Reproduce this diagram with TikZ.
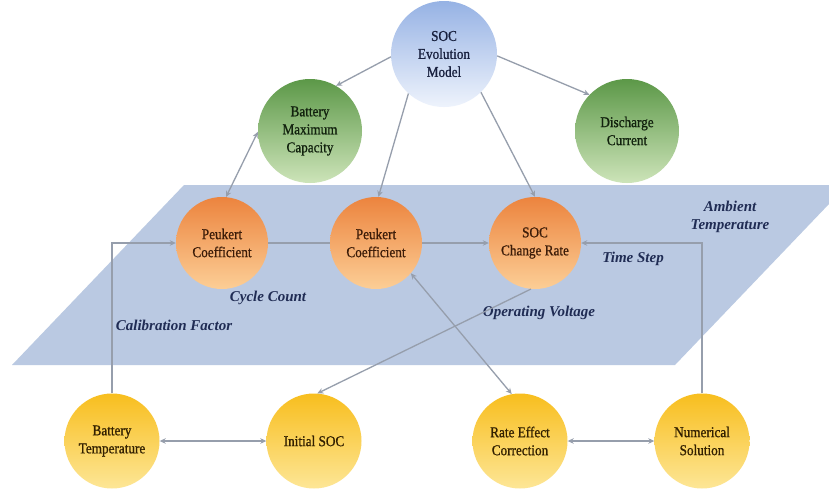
\documentclass[tikz,border=0pt]{standalone}
\usepackage{fontspec}
\setmainfont{Liberation Serif}
\newfontfamily\ballfont{Liberation Serif}[FakeStretch=0.88,FakeBold=0.9]
\usetikzlibrary{arrows.meta}
\definecolor{para}{RGB}{186,201,226}
\definecolor{blueTop}{RGB}{150,178,228}
\definecolor{blueBot}{RGB}{238,243,252}
\definecolor{blueTxt}{RGB}{24,32,62}
\definecolor{greenTop}{RGB}{92,152,72}
\definecolor{greenBot}{RGB}{205,228,185}
\definecolor{greenTxt}{RGB}{18,34,14}
\definecolor{orangeTop}{RGB}{236,132,62}
\definecolor{orangeBot}{RGB}{252,206,150}
\definecolor{orangeTxt}{RGB}{60,28,8}
\definecolor{yellowTop}{RGB}{248,190,30}
\definecolor{yellowBot}{RGB}{253,230,150}
\definecolor{yellowTxt}{RGB}{50,32,0}
\definecolor{lineGray}{RGB}{150,158,172}
\definecolor{labTxt}{RGB}{32,44,84}
\begin{document}
\begin{tikzpicture}[x=1pt,y=-1pt,
  ball/.style={circle, inner sep=0pt, align=center, font=\ballfont\fontsize{15}{18}\selectfont},
  bluenode/.style={ball, minimum size=106pt, top color=blueTop, bottom color=blueBot, text=blueTxt},
  greennode/.style={ball, minimum size=104pt, top color=greenTop, bottom color=greenBot, text=greenTxt},
  orangenode/.style={ball, minimum size=92pt, top color=orangeTop, bottom color=orangeBot, text=orangeTxt},
  yellownode/.style={ball, minimum size=95pt, top color=yellowTop, bottom color=yellowBot, text=yellowTxt},
  conn/.style={draw=lineGray, line width=1.3pt, -{Stealth[length=6pt,width=5.5pt]}},
  biconn/.style={draw=lineGray, line width=1.3pt, {Stealth[length=6pt,width=5.5pt]}-{Stealth[length=6pt,width=5.5pt]}},
  plainconn/.style={draw=lineGray, line width=1.3pt},
  lab/.style={font=\fontsize{15}{18}\selectfont\bfseries\itshape, text=labTxt, align=center}]
\useasboundingbox (0,0) rectangle (829,493);
\fill[white] (0,0) rectangle (829,493);
\fill[para] (12,365) -- (675,365) -- (829,204) -- (829,185) -- (184,185) -- cycle;

% nodes
\node[bluenode] (SEM) at (444,54) {SOC\\Evolution\\Model};
\node[greennode] (BMC) at (310,131) {Battery\\Maximum\\Capacity};
\node[greennode] (DC) at (627,131) {Discharge\\Current};
\node[orangenode] (P1) at (222,243) {Peukert\\Coefficient};
\node[orangenode] (P2) at (376,243) {Peukert\\Coefficient};
\node[orangenode] (SCR) at (535,243) {SOC\\Change Rate};
\node[yellownode] (BT) at (112,441) {Battery\\Temperature};
\node[yellownode] (IS) at (314,441) {Initial SOC};
\node[yellownode] (RE) at (520,441) {Rate Effect\\Correction};
\node[yellownode] (NS) at (702,441) {Numerical\\Solution};

% labels
\node[lab] (amb) at (730,217) {Ambient\\Temperature};
\node[lab] (ts) at (633,259) {Time Step};
\node[lab] (ov) at (539,313) {Operating Voltage};
\node[lab] (cc) at (268,298) {Cycle Count};
\node[lab] (cf) at (174,325) {Calibration Factor};

% connectors
\draw[conn] (SEM.183) -- (BMC.60);
\draw[conn] (SEM.-2) -- (DC.136);
\draw[conn] (SEM.228) -- (P2.87);
\draw[conn] (SEM.-46) -- (SCR.90);
\draw[biconn] (P1.85) -- (BMC.181);
\draw[plainconn] (P1.east) -- (P2.west);
\draw[conn] (P2.east) -- (SCR.west);
\draw[conn] (BT.north) |- (P1.west);
\draw[conn] (NS.north) |- (SCR.east);
\draw[conn] (SCR.265) -- (IS.86);
\draw[biconn] (P2.-41) -- (RE.100);
\draw[biconn] (BT.east) -- (IS.west);
\draw[biconn] (RE.east) -- (NS.west);
\end{tikzpicture}
\end{document}
